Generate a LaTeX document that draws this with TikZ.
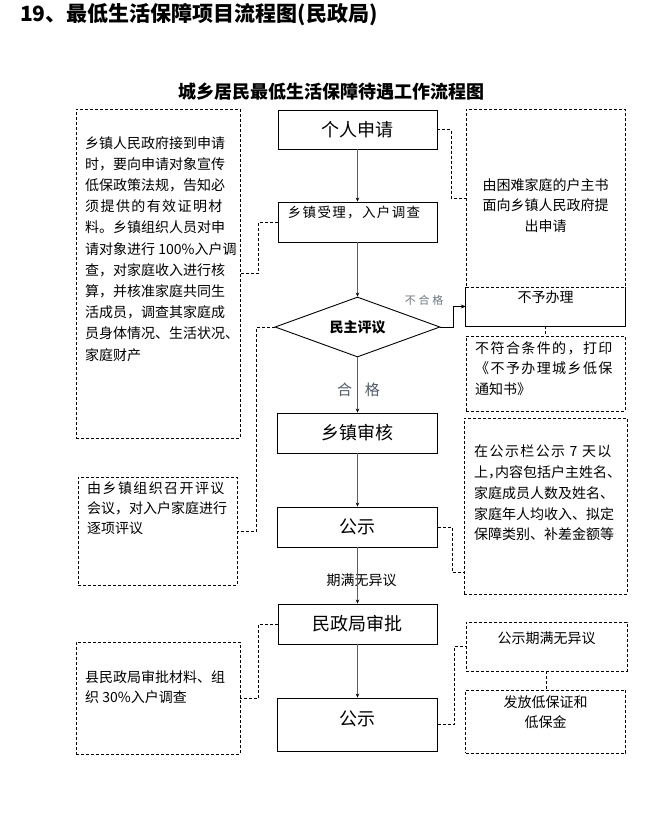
\documentclass[tikz,border=0pt]{standalone}
\usepackage{fontspec}
\setmainfont{Noto Sans CJK SC}
\newfontfamily\lsA[LetterSpace=10]{Noto Sans CJK SC}
\newfontfamily\lsB[LetterSpace=25]{Noto Sans CJK SC}
\usetikzlibrary{shapes.geometric,arrows.meta}
\definecolor{labgray}{HTML}{6E7480}
\definecolor{labblue}{HTML}{4F5A6A}
\definecolor{flowgray}{HTML}{5E5E5E}
\tikzset{
  solidbox/.style={draw=black, line width=0.9pt, minimum width=160pt, minimum height=40pt, inner sep=0pt},
  dbox/.style={draw=black, line width=0.8pt, dash pattern=on 3pt off 2pt, inner sep=0pt},
  txt/.style={inner sep=0pt, font=\fontsize{14}{20.5}\selectfont},
  bigtxt/.style={font=\fontsize{18}{18}\selectfont},
  flow/.style={draw=flowgray, line width=1.3pt, -{Stealth[length=4pt,width=3.5pt,color=black]}},
  dconn/.style={draw=black, line width=0.8pt, dash pattern=on 3pt off 2pt},
}
\begin{document}
\begin{tikzpicture}[x=1pt,y=-1pt]
\fill[white] (0,0) rectangle (655,827);
\useasboundingbox (0,0) rectangle (655,827);

% titles
\node[anchor=west, inner sep=0pt, font=\fontsize{21}{21}\selectfont\bfseries] (title) at (20,15) {19、最低生活保障项目流程图(民政局)};
\node[inner sep=0pt, font=\fontsize{18}{18}\selectfont\bfseries] (sub) at (331.5,92) {城乡居民最低生活保障待遇工作流程图};

% main column
\node[solidbox, minimum width=159pt, minimum height=39pt, bigtxt] (p1) at (357.5,129.5) {个人申请};
\node[solidbox, minimum width=159pt] (acc) at (357.5,222) {};
\node[inner sep=0pt, font=\fontsize{13.5}{14}\selectfont\lsA] (acct) at (354,213) {乡镇受理，入户调查};
\node[diamond, draw=black, line width=0.9pt, minimum width=165pt, minimum height=60pt, aspect=2.75, inner sep=0pt, font=\fontsize{14}{14}\selectfont\bfseries] (dm) at (357.5,327) {民主评议};
\node[solidbox, bigtxt] (town) at (357.5,433) {乡镇审核};
\node[solidbox, bigtxt] (gs1) at (357.5,527) {公示};
\node[solidbox, minimum width=159pt, bigtxt] (ap) at (357.5,624) {民政局审批};
\node[solidbox, minimum height=53pt] (gs2) at (357.5,724.5) {};
\node[inner sep=0pt, bigtxt] (gs2t) at (357.5,719) {公示};

% labels
\node[inner sep=0pt, font=\fontsize{11}{11}\selectfont\lsB, text=labgray] (nq) at (424,300) {不合格};
\node[inner sep=0pt, font=\fontsize{15}{15}\selectfont, text=labblue] (hg) at (358.5,390) {合\hspace{13pt}格};
\node[inner sep=0pt, font=\fontsize{14}{14}\selectfont] (qm) at (361.5,580) {期满无异议};

% right column
\node[dbox, minimum width=159pt, minimum height=178pt] (r1) at (545.5,198) {};
\node[txt, align=center, anchor=north] (r1t) at (545.5,178) {由困难家庭的户主书\\面向乡镇人民政府提\\出申请};
\node[inner sep=0pt, minimum width=159pt, minimum height=39pt] (rej) at (545.5,306.5) {};
\draw[line width=0.9pt] (rej.north west) -- (rej.south west) -- (rej.south east) -- (rej.north east);
\node[txt] (rejt) at (545.5,297) {不予办理};
\node[dbox, minimum width=159pt, minimum height=75pt] (r2) at (545.5,373.5) {};
\node[txt, align=left, anchor=north west] (r2t) at (475,341) {{\lsA 不符合条件的，打印}\\{\lsA 《不予办理城乡低保}\\通知书》};
\node[dbox, minimum width=163pt, minimum height=176pt] (r3) at (545.5,506) {};
\node[txt, align=left, anchor=north west, font=\fontsize{14}{20.7}\selectfont] (r3t) at (474,445) {{\lsA 在公示栏公示 7 天以}\\上，\kern-7pt 内容包括户主姓名、\\家庭成员人数及姓名、\\家庭年人均收入、拟定\\保障类别、补差金额等};
\node[dbox, minimum width=161pt, minimum height=49pt] (r4) at (546.5,646.5) {};
\node[txt] (r4t) at (546.5,638) {公示期满无异议};
\node[dbox, minimum width=160pt, minimum height=63pt] (r5) at (545.5,721.5) {};
\node[txt, align=center, anchor=north] (r5t) at (545.5,695) {发放低保证和\\低保金};

% left column
\node[dbox, minimum width=164pt, minimum height=329pt] (l1) at (158,273.5) {};
\node[txt, align=left, anchor=north west, font=\fontsize{14}{21.2}\selectfont] (l1t) at (85,136) {乡镇人民政府接到申请\\时，要向申请对象宣传\\低保政策法规，告知必\\{\lsA 须提供的有效证明材}\\料。乡镇组织人员对申\\请对象进行 100\%入户调\\查，对家庭收入进行核\\算，并核准家庭共同生\\活成员，调查其家庭成\\员身体情况、生活状况、\\家庭财产};
\node[dbox, minimum width=159pt, minimum height=108pt] (l2) at (157.5,531) {};
\node[txt, align=left, anchor=north west, font=\fontsize{14}{20}\selectfont] (l2t) at (87,482) {{\lsA 由乡镇组织召开评议}\\会议，对入户家庭进行\\逐项评议};
\node[dbox, minimum width=164pt, minimum height=112pt] (l3) at (158,698) {};
\node[txt, align=left, anchor=north west, font=\fontsize{14}{20}\selectfont] (l3t) at (85,670) {县民政局审批材料、组\\织 30\%入户调查};

% flow connectors
\draw[flow] (p1.south) -- (acc.north);
\draw[flow] (acc.south) -- (dm.north);
\draw[flow] (dm.south) -- (town.north);
\draw[flow] (town.south) -- (gs1.north);
\draw[flow] (gs1.south) -- (ap.north);
\draw[flow] (ap.south) -- (gs2.north);
\draw[line width=0.8pt, -{Stealth[length=5pt,width=4pt]}] (dm.east) -- ++(13,0) |- (rej.west);

% dashed connectors
\coordinate (k6) at (0,572);
\draw[dconn] (p1.east) -- ++(14,0) |- (r1.west);
\draw[dconn] (acc.west) -- ++(-19,0) |- (l1.east);
\draw[dconn] (rej.south) -- (r2.north);
\draw[dconn] (dm.west) -- ++(-18,0) |- (l2.east);
\draw[dconn] (gs1.east) -- ++(14,0) |- (r3.west |- k6);
\draw[dconn] (ap.west) -- ++(-19,0) |- (l3.east);
\draw[dconn] (gs2.east) -- ++(16,0) |- (r4.west);
\draw[dconn] (r4.south) -- (r4.south |- r5.north);
\end{tikzpicture}
\end{document}
